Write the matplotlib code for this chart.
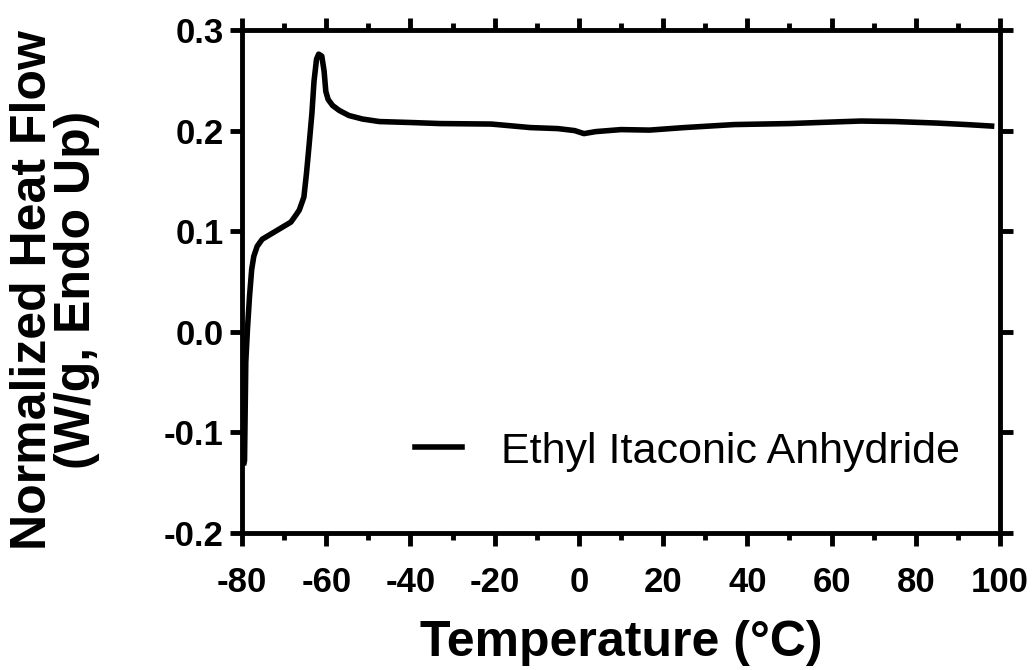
import matplotlib
matplotlib.use("Agg")
import matplotlib.pyplot as plt
from matplotlib.ticker import MultipleLocator

plt.rcParams['font.family'] = ['Liberation Sans', 'DejaVu Sans']
plt.rcParams['axes.unicode_minus'] = False

# DSC trace
temp = [-79.5, -79.4, -79.1, -78.7, -78.2, -77.7, -77.2, -76.4, -75.2, -72.8,
        -70.4, -68.4, -67.2, -66.4, -65.8, -65.3, -64.7, -64.1, -63.4, -62.9,
        -62.3, -61.8, -61.4, -61.05, -60.5, -60.1, -59.55, -58.5, -56.9, -54.6,
        -51.4, -47.4, -39.6, -33.0, -20.8, -11.5, -5.0, -1.0, 1.2, 4.0,
        10.0, 16.8, 25.0, 36.9, 50.0, 60.0, 67.0, 75.0, 85.0, 92.0, 98.0]
heat_flow = [-0.13, -0.128, -0.030, 0.003, 0.036, 0.062, 0.075, 0.085, 0.092, 0.098,
             0.104, 0.109, 0.116, 0.121, 0.128, 0.134, 0.157, 0.184, 0.217, 0.249,
             0.271, 0.276, 0.275, 0.274, 0.259, 0.239, 0.231, 0.225, 0.220, 0.215,
             0.2115, 0.209, 0.208, 0.207, 0.2065, 0.203, 0.202, 0.200, 0.197, 0.199,
             0.201, 0.2005, 0.203, 0.206, 0.207, 0.2085, 0.2095, 0.209, 0.2075, 0.206, 0.2045]

fig = plt.figure(figsize=(10.36, 6.70), dpi=100)
ax = fig.add_axes([242 / 1036, 1 - 533 / 670, (1000 - 242) / 1036, (533 - 30) / 670])

ax.plot(temp, heat_flow, color='black', lw=4, label='Ethyl Itaconic Anhydride',
        solid_joinstyle='round')

ax.set_xlim(-80, 100)
ax.set_ylim(-0.2, 0.3)
ax.xaxis.set_major_locator(MultipleLocator(20))
ax.xaxis.set_minor_locator(MultipleLocator(10))
ax.yaxis.set_major_locator(MultipleLocator(0.1))
ax.yaxis.set_major_formatter(plt.FormatStrFormatter('%.1f'))

for s in ax.spines.values():
    s.set_linewidth(3.5)
ax.tick_params(which='both', direction='out', width=3.5, top=True, right=True,
               labeltop=False, labelright=False)
ax.tick_params(which='major', length=9, labelsize=25)
ax.tick_params(which='minor', length=5)
ax.tick_params(axis='x', which='major', pad=15)
ax.tick_params(axis='y', which='major', pad=4)
ax.tick_params(axis='y', which='minor', left=False, right=False)
for lab in ax.get_xticklabels() + ax.get_yticklabels():
    lab.set_fontweight('bold')

ax.set_xlabel('Temperature (°C)', fontsize=36, fontweight='bold')
ax.xaxis.set_label_coords(0.5, -0.172)
ax.set_ylabel('Normalized Heat Flow\n(W/g, Endo Up)', fontsize=36, fontweight='bold',
              linespacing=0.95)
ax.yaxis.set_label_coords(-0.187, 0.483)

ax.legend(loc='center right', frameon=False, fontsize=31, handlelength=1.1,
          handletextpad=0.9, borderpad=0, borderaxespad=0,
          bbox_to_anchor=(0.947, 0.162))

fig.savefig('out.png', dpi=100)
